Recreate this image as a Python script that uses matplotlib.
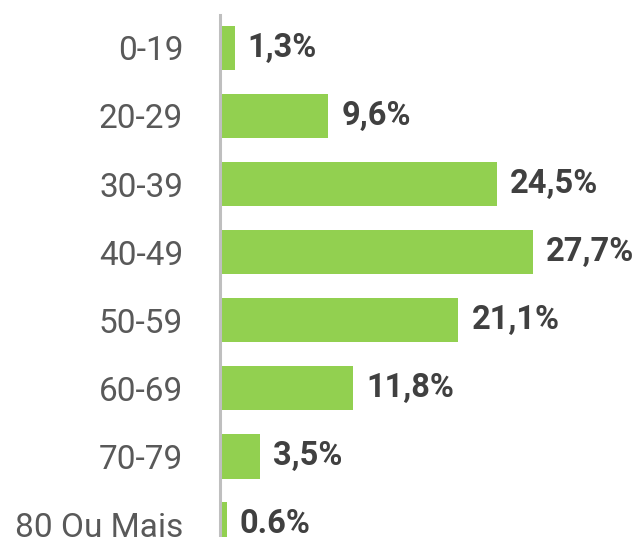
import matplotlib
matplotlib.use("Agg")
import matplotlib.pyplot as plt

plt.rcParams['font.family'] = ['Roboto', 'DejaVu Sans']

faixas = ["0-19", "20-29", "30-39", "40-49", "50-59", "60-69", "70-79", "80 Ou Mais"]
valores = [1.3, 9.6, 24.5, 27.7, 21.1, 11.8, 3.5, 0.6]
rotulos = ["1,3%", "9,6%", "24,5%", "27,7%", "21,1%", "11,8%", "3,5%", "0.6%"]

fig = plt.figure(figsize=(6.44, 5.37), dpi=100)
ax = fig.add_axes([220 / 644, 0, 1 - 220 / 644, 1 - 15 / 537])

pos = range(len(faixas))
ax.barh(pos, valores, height=0.66, color="#92d050")

for i, (v, r) in enumerate(zip(valores, rotulos)):
    ax.annotate(r, (v, i), xytext=(13, 0), textcoords="offset pixels",
                va="center", ha="left", fontsize=23.5, fontweight="bold", color="#404040")

ax.set_xlim(0, (644 - 220) / 11.3)
ax.set_ylim(7.19, -0.485)
ax.set_yticks(list(pos))
ax.set_yticklabels(faixas, fontsize=24, color="#595959")
ax.tick_params(axis="y", length=0, pad=26.5)
ax.set_xticks([])

for s in ["top", "right", "bottom"]:
    ax.spines[s].set_visible(False)
ax.spines["left"].set_color("#bfbfbf")
ax.spines["left"].set_linewidth(2.2)

fig.savefig("out.png", dpi=100)
